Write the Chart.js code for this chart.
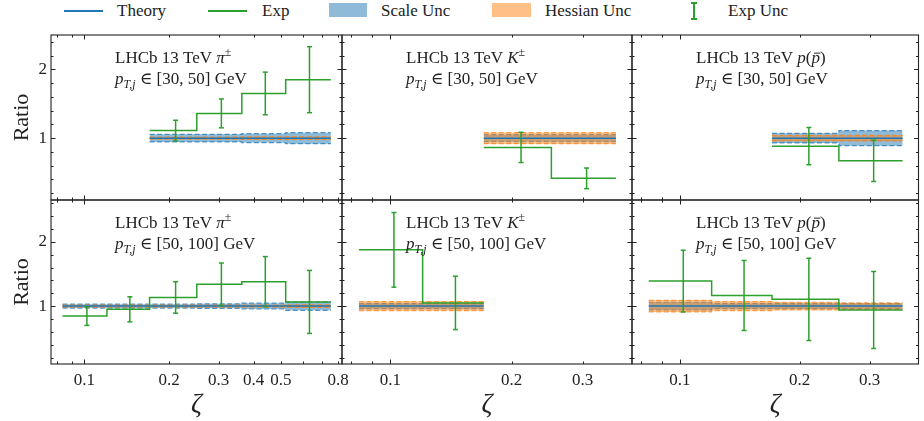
<!DOCTYPE html>
<html>
<head>
<meta charset="utf-8">
<script src="https://cdn.jsdelivr.net/npm/chart.js@4.4.1/dist/chart.umd.min.js"></script>
<style>
body { margin: 0; background: #fff; width: 924px; height: 421px; position: relative; overflow: hidden; font-family: 'Liberation Serif', serif; }
canvas { position: absolute; }
#legend { position: absolute; left: 0; top: 0; width: 924px; height: 24px; font-size: 17px; color: #222; }
#legend span { position: absolute; top: 0; line-height: 22px; white-space: nowrap; }
#legend i { position: absolute; display: block; }
</style>
</head>
<body>
<div id="legend">
  <i style="left:64px;top:10px;width:39px;height:2px;background:#1f77b4"></i><span style="left:117px">Theory</span>
  <i style="left:208px;top:10px;width:39px;height:2px;background:#2ca02c"></i><span style="left:262px">Exp</span>
  <i style="left:329px;top:3px;width:38px;height:14px;background:rgba(31,119,180,0.5)"></i><span style="left:381px">Scale Unc</span>
  <i style="left:492px;top:3px;width:39px;height:14px;background:rgba(255,127,14,0.5)"></i><span style="left:545px">Hessian Unc</span>
  <i style="left:693px;top:2px;width:1.5px;height:17px;background:#2ca02c"></i>
  <i style="left:691px;top:2px;width:6px;height:1.5px;background:#2ca02c"></i>
  <i style="left:691px;top:18px;width:6px;height:1.5px;background:#2ca02c"></i><span style="left:728px">Exp Unc</span>
</div>
<script>
// bin edges and the x where the error bars sit
const zetaEdges = [0.0835, 0.1202, 0.1705, 0.251, 0.363, 0.52, 0.753];
const zetaCentres = [0.102, 0.145, 0.211, 0.307, 0.44, 0.632];

// pi, pT 30-50 (starts at bin 2)
const piLowFirst = 2;
const piLowExp = [1.11, 1.36, 1.65, 1.85];
const piLowErr = [0.15, 0.21, 0.31, 0.48];
const piLowScale = [0.055, 0.055, 0.065, 0.08];
const piLowHess = [0.015, 0.015, 0.02, 0.02];
// pi, pT 50-100
const piHighFirst = 0;
const piHighExp = [0.845, 0.95, 1.135, 1.34, 1.38, 1.065];
const piHighErr = [0.145, 0.195, 0.245, 0.33, 0.39, 0.49];
const piHighScale = [0.03, 0.03, 0.03, 0.035, 0.045, 0.065];
const piHighHess = [0.015, 0.015, 0.015, 0.015, 0.015, 0.02];
// K
const kLowFirst = 2;
const kLowExp = [0.865, 0.415];
const kLowErr = [0.22, 0.15];
const kLowScale = [0.05, 0.05];
const kLowHess = [0.08, 0.08];
const kHighFirst = 0;
const kHighExp = [1.875, 1.05];
const kHighErr = [0.58, 0.415];
const kHighScale = [0.04, 0.04];
const kHighHess = [0.07, 0.07];
// p(pbar)
const pLowFirst = 2;
const pLowExp = [0.883, 0.67];
const pLowErr = [0.27, 0.30];
const pLowScale = [0.07, 0.11];
const pLowHess = [0.04, 0.04];
const pHighFirst = 0;
const pHighExp = [1.39, 1.165, 1.105, 0.94];
const pHighErr = [0.48, 0.545, 0.64, 0.6];
const pHighScale = [0.06, 0.04, 0.04, 0.04];
const pHighHess = [0.09, 0.07, 0.06, 0.05];

// axes
const yRangeLow = [0.1, 2.5];
const yRangeHigh = [0.1, 2.65];
const yMajorTicks = [1, 2];
const yMinorTicks = [0.2, 0.4, 0.6, 0.8, 1.2, 1.4, 1.6, 1.8, 2.2, 2.4, 2.6];
const xRangeWide = [0.076, 0.825];
const xRangeNarrow = [0.0758, 0.398];
const xMajorTicks = [0.1];
const xMinorTicks = [0.08, 0.09, 0.2, 0.3, 0.4, 0.5, 0.6, 0.7, 0.8];
const xLabelsWide = [0.1, 0.2, 0.3, 0.4, 0.5, 0.8];
const xLabelsNarrow = [0.1, 0.2, 0.3];

const ptRanges = ['[30, 50]', '[50, 100]'];
const hadronRuns = [
    [{ t: 'π', it: true }, { t: '±', sup: true }],
    [{ t: 'K', it: true }, { t: '±', sup: true }],
    [{ t: 'p', it: true }, { t: '(' }, { t: 'p', it: true, bar: true }, { t: ')' }]
];

// panel frame (px)
const colLeft = [51, 342, 632], colRight = [342, 632, 922];
const rowTop = [35, 200], rowBottom = [200, 364];

const serif = "'Liberation Serif', 'DejaVu Serif', serif";
const ink = '#222';

const panels = [
    { row: 0, col: 0, first: piLowFirst, exp: piLowExp, err: piLowErr, scale: piLowScale, hess: piLowHess },
    { row: 0, col: 1, first: kLowFirst, exp: kLowExp, err: kLowErr, scale: kLowScale, hess: kLowHess },
    { row: 0, col: 2, first: pLowFirst, exp: pLowExp, err: pLowErr, scale: pLowScale, hess: pLowHess },
    { row: 1, col: 0, first: piHighFirst, exp: piHighExp, err: piHighErr, scale: piHighScale, hess: piHighHess },
    { row: 1, col: 1, first: kHighFirst, exp: kHighExp, err: kHighErr, scale: kHighScale, hess: kHighHess },
    { row: 1, col: 2, first: pHighFirst, exp: pHighExp, err: pHighErr, scale: pHighScale, hess: pHighHess }
];

// histogram steps: one point per edge, last value repeated at the closing edge
function stepData(first, vals) {
    const pts = vals.map((v, i) => ({ x: zetaEdges[first + i], y: v }));
    pts.push({ x: zetaEdges[first + vals.length], y: vals[vals.length - 1] });
    return pts;
}

function errData(first, vals, errs) {
    const pts = [];
    vals.forEach((v, i) => {
        const c = zetaCentres[first + i];
        pts.push({ x: c, y: v - errs[i] }, { x: c, y: v + errs[i] }, { x: c, y: null });
    });
    return pts;
}

function drawRuns(ctx, x, y, runs, size) {
    ctx.textBaseline = 'alphabetic';
    ctx.textAlign = 'left';
    runs.forEach(r => {
        const s = (r.sup || r.sub) ? size * 0.7 : size;
        ctx.font = (r.it ? 'italic ' : '') + s + 'px ' + serif;
        const dy = r.sup ? -size * 0.4 : (r.sub ? size * 0.25 : 0);
        ctx.fillText(r.t, x, y + dy);
        const w = ctx.measureText(r.t).width;
        if (r.bar) {
            ctx.save();
            ctx.strokeStyle = ctx.fillStyle;
            ctx.lineWidth = 1;
            ctx.beginPath();
            ctx.moveTo(x + w * 0.3, y - size * 0.58);
            ctx.lineTo(x + w * 1.05, y - size * 0.58);
            ctx.stroke();
            ctx.restore();
        }
        x += w;
    });
}

function makeDecor(p) {
    return {
        id: 'panelDecor',
        afterDatasetsDraw(chart) {
            const { ctx, chartArea: a, scales: { x, y } } = chart;
            ctx.save();
            ctx.strokeStyle = ink;
            ctx.lineWidth = 1.1;
            ctx.strokeRect(a.left, a.top, a.right - a.left, a.bottom - a.top);
            ctx.lineWidth = 1;
            ctx.beginPath();
            const xt = xMajorTicks.map(v => [v, 4.5]).concat(xMinorTicks.map(v => [v, 2.5]));
            xt.forEach(([v, len]) => {
                if (v <= x.min || v >= x.max) return;
                const px = Math.round(x.getPixelForValue(v)) + 0.5;
                ctx.moveTo(px, a.bottom); ctx.lineTo(px, a.bottom - len);
                ctx.moveTo(px, a.top); ctx.lineTo(px, a.top + len);
            });
            const yt = yMajorTicks.map(v => [v, 4.5]).concat(yMinorTicks.map(v => [v, 2.5]));
            yt.forEach(([v, len]) => {
                if (v <= y.min || v >= y.max) return;
                const py = Math.round(y.getPixelForValue(v)) + 0.5;
                ctx.moveTo(a.left, py); ctx.lineTo(a.left + len, py);
                ctx.moveTo(a.right, py); ctx.lineTo(a.right - len, py);
            });
            ctx.stroke();

            ctx.fillStyle = ink;
            const tx = a.left + 64;
            drawRuns(ctx, tx, a.top + 28, [{ t: 'LHCb 13 TeV ' }].concat(hadronRuns[p.col]), 17);
            drawRuns(ctx, tx, a.top + 49, [
                { t: 'p', it: true }, { t: 'T,j', it: true, sub: true },
                { t: ' ∈ ' + ptRanges[p.row] + ' GeV' }
            ], 17);
            ctx.restore();
        }
    };
}

const M = 6;
panels.forEach(p => {
    const L = p.col === 0 ? 0 : colLeft[p.col] - M;
    const T = rowTop[p.row] - M;
    const R = p.col === 2 ? 924 : colRight[p.col] + M;
    const B = p.row === 1 ? 421 : rowBottom[p.row] + M;
    const cv = document.createElement('canvas');
    cv.width = R - L;
    cv.height = B - T;
    cv.style.left = L + 'px';
    cv.style.top = T + 'px';
    document.body.appendChild(cv);

    const yr = p.row === 0 ? yRangeLow : yRangeHigh;
    const xr = p.col === 0 ? xRangeWide : xRangeNarrow;
    const xl = p.col === 0 ? xLabelsWide : xLabelsNarrow;

    const datasets = [
        { data: stepData(p.first, p.scale.map(s => 1 - s)), borderColor: 'rgba(31,119,180,0.75)', borderDash: [5, 2.5], borderWidth: 1.2, order: 6 },
        { data: stepData(p.first, p.scale.map(s => 1 + s)), borderColor: 'rgba(31,119,180,0.75)', borderDash: [5, 2.5], borderWidth: 1.2, order: 6,
          fill: '-1', backgroundColor: 'rgba(31,119,180,0.5)' },
        { data: stepData(p.first, p.hess.map(s => 1 - s)), borderColor: 'rgba(255,127,14,0.75)', borderDash: [5, 2.5], borderWidth: 1.2, order: 5 },
        { data: stepData(p.first, p.hess.map(s => 1 + s)), borderColor: 'rgba(255,127,14,0.75)', borderDash: [5, 2.5], borderWidth: 1.2, order: 5,
          fill: '-1', backgroundColor: 'rgba(255,127,14,0.5)' },
        { data: stepData(p.first, p.exp.map(() => 1)), borderColor: '#1f77b4', borderWidth: 1.5, order: 4 },
        { data: stepData(p.first, p.exp), borderColor: '#2ca02c', borderWidth: 1.5, order: 2 },
        { data: errData(p.first, p.exp, p.err), borderColor: '#2ca02c', borderWidth: 1.5, order: 1, stepped: false,
          pointStyle: 'line', pointRadius: 2.5, pointBorderWidth: 1.5, pointBorderColor: '#2ca02c' }
    ].map(d => Object.assign({ showLine: true, pointRadius: 0, stepped: true, fill: false, spanGaps: false }, d));

    new Chart(cv, {
        type: 'scatter',
        data: { datasets },
        options: {
            responsive: false, animation: false, events: [],
            layout: { padding: { left: p.col === 0 ? 0 : M, top: M, right: R - colRight[p.col], bottom: p.row === 1 ? 0 : M } },
            plugins: { legend: { display: false }, tooltip: { enabled: false } },
            scales: {
                x: {
                    type: 'logarithmic', min: xr[0], max: xr[1],
                    grid: { display: false, drawTicks: false }, border: { display: false },
                    ticks: { display: p.row === 1, autoSkip: false, maxRotation: 0, padding: 6,
                             font: { family: serif, size: 17 }, color: ink, callback: v => String(v) },
                    title: { display: p.row === 1, text: 'ζ', color: ink,
                             font: { family: serif, size: 27, style: 'italic' }, padding: { top: 3, bottom: 0 } },
                    afterBuildTicks: s => { s.ticks = xl.map(v => ({ value: v })); },
                    afterFit: s => { s.height = p.row === 1 ? 421 - rowBottom[1] : 0; s.paddingLeft = 0; s.paddingRight = 0; }
                },
                y: {
                    type: 'linear', min: yr[0], max: yr[1],
                    grid: { display: false, drawTicks: false }, border: { display: false },
                    ticks: { display: p.col === 0, padding: 4, font: { family: serif, size: 17 }, color: ink },
                    title: { display: p.col === 0, text: 'Ratio', color: ink,
                             font: { family: serif, size: 22 }, padding: { top: 9, bottom: 0 } },
                    afterBuildTicks: s => { s.ticks = yMajorTicks.map(v => ({ value: v })); },
                    afterFit: s => { s.width = p.col === 0 ? colLeft[0] : 0; s.paddingTop = 0; s.paddingBottom = 0; }
                }
            }
        },
        plugins: [makeDecor(p)]
    });
});
</script>
</body>
</html>
